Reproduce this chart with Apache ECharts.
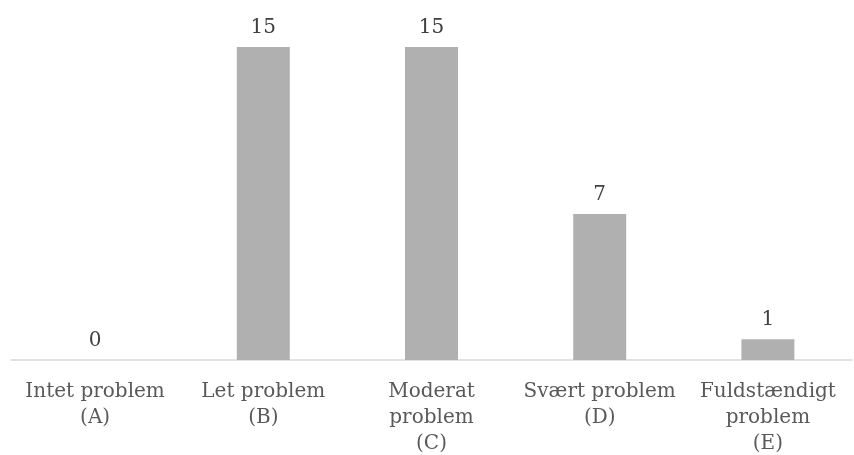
<!DOCTYPE html>
<html>
<head>
<meta charset="utf-8">
<script src="https://cdn.jsdelivr.net/npm/echarts@6/dist/echarts.min.js"></script>
<style>
    html, body { margin: 0; padding: 0; background: #fff; }
    #chart { width: 854px; height: 455px; }
</style>
</head>
<body>
<div id="chart"></div>
<script>
// svarkategorier og antal
var categories = [
    'Intet problem\n(A)',
    'Let problem\n(B)',
    'Moderat\nproblem\n(C)',
    'Svært problem\n(D)',
    'Fuldstændigt\nproblem\n(E)'
];
var counts = [0, 15, 15, 7, 1];

var chart = echarts.init(document.getElementById('chart'));

var option = {
    animation: false,
    grid: {
        left: 11,
        right: 2,
        top: 47,
        bottom: 95,
        outerBoundsMode: 'none'
    },
    xAxis: {
        type: 'category',
        data: categories,
        axisLine: {
            lineStyle: { color: '#d9d9d9', width: 1.5 }
        },
        axisTick: { show: false },
        axisLabel: {
            interval: 0,
            margin: 19,
            fontFamily: 'DejaVu Serif',
            fontSize: 20,
            lineHeight: 26,
            color: '#595959'
        }
    },
    yAxis: {
        type: 'value',
        min: 0,
        max: 15,
        show: false,
        splitLine: { show: false }
    },
    series: [
        {
            type: 'bar',
            data: counts,
            barWidth: '31.5%',
            itemStyle: { color: '#b0b0b0' },
            label: {
                show: true,
                position: 'top',
                distance: 9,
                fontFamily: 'DejaVu Serif',
                fontSize: 20,
                color: '#404040'
            }
        }
    ]
};

chart.setOption(option);
</script>
</body>
</html>
